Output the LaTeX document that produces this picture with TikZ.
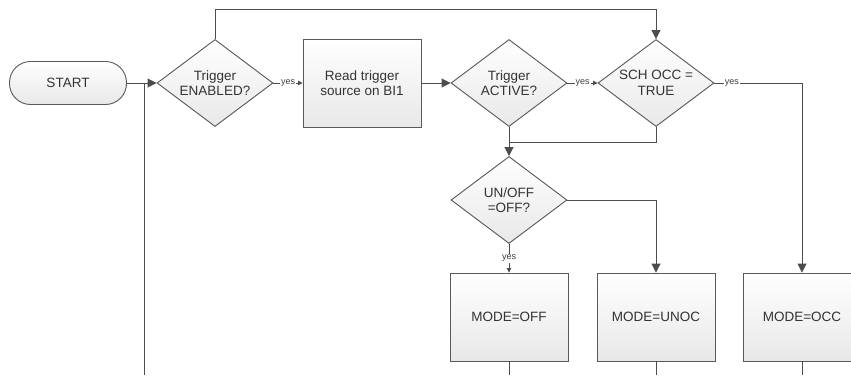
\documentclass[tikz,border=0pt]{standalone}
\usepackage{fontspec}
\setmainfont{Liberation Sans}
\usetikzlibrary{shapes.geometric, arrows.meta}

\begin{document}
\begin{tikzpicture}[x=1pt, y=-1pt,
  base/.style={draw=black!65, line width=0.9pt, top color=white,
               bottom color=black!9, text=black!80, align=center,
               font=\fontsize{13.5}{15.5}\selectfont},
  term/.style={base, rectangle, rounded corners=21pt,
               minimum width=117pt, minimum height=43pt},
  proc/.style={base, rectangle, minimum width=118pt,
               minimum height=88pt, inner sep=2pt},
  decis/.style={base, diamond, aspect=1.33, minimum width=116pt,
                minimum height=87pt, inner sep=0pt},
  flow/.style={draw=black!70, line width=0.9pt},
  arr/.style={flow, -{Triangle[length=9pt, width=9pt]}},
  yesarr/.style={flow, -{Triangle[length=4.5pt, width=4.5pt]}},
  yes/.style={font=\fontsize{9}{10}\selectfont, text=black!75,
              fill=white, inner sep=1pt}]
  \useasboundingbox (0,0) rectangle (851,375);
  % top row
  \node[term]  (start) at (68,83)  {START};
  \node[decis] (en)    at (215,83) {Trigger\\ENABLED?};
  \node[proc]  (rd)    at (362,83) {Read trigger\\source on BI1};
  \node[decis] (act)   at (509,83) {Trigger\\ACTIVE?};
  \node[decis] (sch)   at (656,83) {SCH OCC =\\TRUE};
  % second decision and the modes
  \node[decis] (unoff) at (509,200) {UN/OFF\\=OFF?};
  \node[proc]  (off)   at (509,317) {MODE=OFF};
  \node[proc]  (unoc)  at (656,317) {MODE=UNOC};
  \node[proc]  (occ)   at (802,317) {MODE=OCC};
  % loose ends running off the bottom
  \coordinate (loop)   at (144,375);
  \coordinate (offend) at (509,375);
  \coordinate (unocend) at (656,375);
  \coordinate (occend) at (802,375);
  % connectors
  \draw[arr] (start) -- (en);
  \draw[flow] (loop) -- (loop |- en.west);
  \draw[yesarr] (en.east) -- node[yes] {yes} (rd.west);
  \draw[arr] (rd.east) -- (act.west);
  \draw[yesarr] (act.east) -- node[yes] {yes} (sch.west);
  \draw[arr] (en.north) -- ++(0,-30) -| (sch.north);
  \draw[arr] (sch.east) -| node[yes, pos=0.1] {yes} (occ.north);
  \draw[flow] (sch.south) -- ++(0,15) -| (act.south);
  \draw[arr] (act.south) -- (unoff.north);
  \draw[arr] (unoff.east) -| (unoc.north);
  \draw[yesarr] (unoff.south) -- node[yes] {yes} (off.north);
  \draw[flow] (off.south) -- (offend);
  \draw[flow] (unoc.south) -- (unocend);
  \draw[flow] (occ.south) -- (occend);
\end{tikzpicture}
\end{document}
